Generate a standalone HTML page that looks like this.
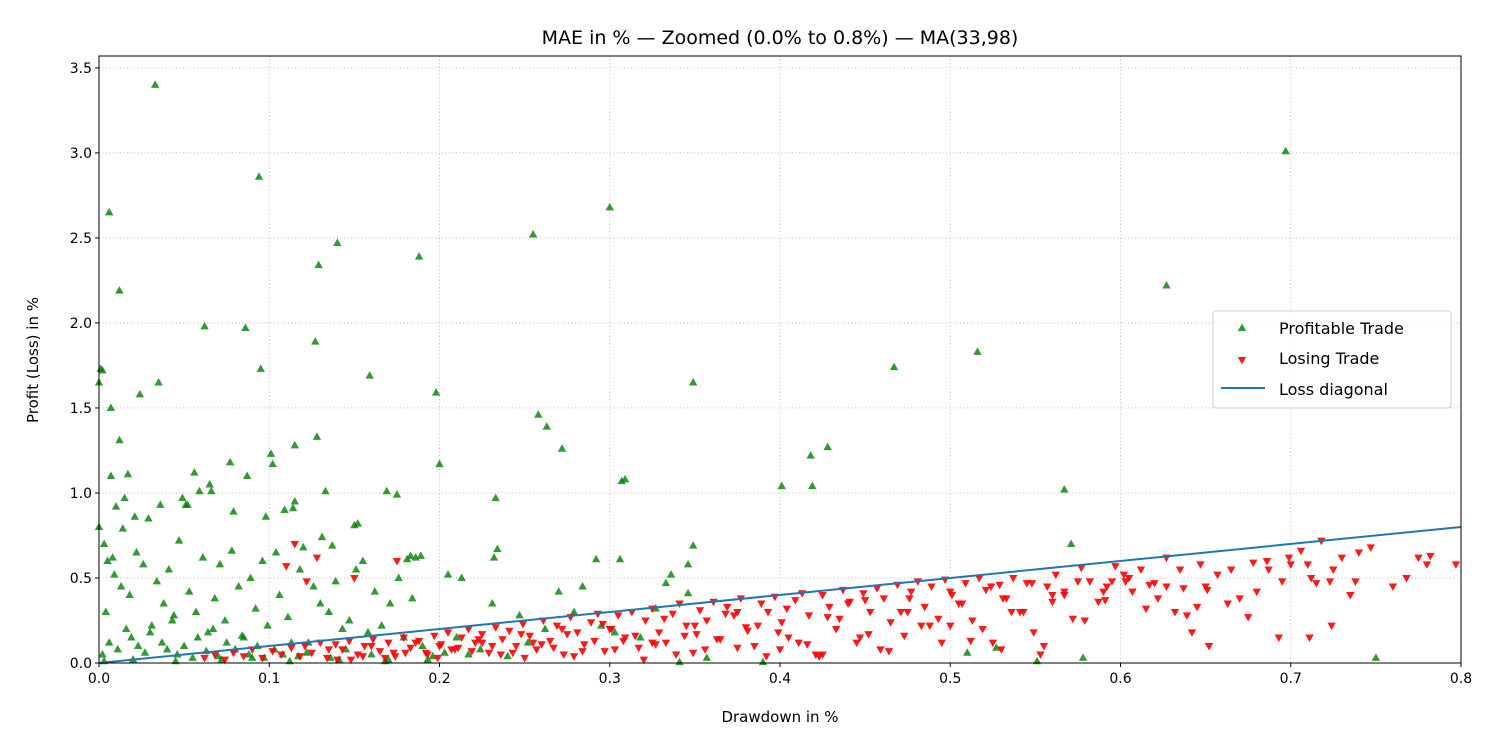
<!DOCTYPE html>
<html><head><meta charset="utf-8"><style>
body{margin:0;background:#fff;}
svg{display:block;font-family:"DejaVu Sans","Liberation Sans",sans-serif;}
</style></head><body>
<svg id="chart" width="1500" height="750"></svg>
<script>
const xTicks=[0,0.1,0.2,0.3,0.4,0.5,0.6,0.7,0.8];
const xTickLabels=["0.0","0.1","0.2","0.3","0.4","0.5","0.6","0.7","0.8"];
const yTicks=[0,0.5,1,1.5,2,2.5,3,3.5];
const yTickLabels=["0.0","0.5","1.0","1.5","2.0","2.5","3.0","3.5"];
const xDomain=[0,0.8];
const yDomain=[0,3.57];
const diagX=[0,0.8];
const diagY=[0,0.8];
const profitX=[0.033,0.094,0.006,0.012,0.129,0.140,0.188,0.255,0.300,0.697,0.627,0.062,0.086,0.127,0.001,0.002,0.0,0.035,0.024,0.095,0.159,0.198,0.349,0.467,0.516,0.007,0.258,0.263,0.272,0.428,0.418,0.012,0.115,0.128,0.101,0.102,0.200,0.056,0.017,0.007,0.077,0.087,0.065,0.059,0.066,0.133,0.169,0.175,0.233,0.307,0.309,0.401,0.419,0.567,0.115,0.114,0.109,0.098,0.036,0.049,0.052,0.015,0.010,0.014,0.021,0.029,0.051,0.079,0.104,0.120,0.131,0.137,0.150,0.152,0.183,0.181,0.186,0.189,0.205,0.213,0.234,0.232,0.292,0.306,0.346,0.349,0.336,0.333,0.571,0.0,0.003,0.005,0.008,
0.004,0.009,0.013,0.018,0.022,0.026,0.031,0.034,0.038,0.041,0.044,0.047,0.053,0.057,0.061,0.064,0.068,0.071,0.074,0.078,0.082,0.085,0.089,0.092,0.096,0.099,0.106,0.111,0.118,0.123,0.126,0.130,0.135,0.139,0.143,0.147,0.151,0.155,0.158,0.162,0.166,0.171,0.176,0.179,0.184,0.002,0.006,0.011,0.016,0.019,0.023,0.027,0.030,0.037,0.040,0.043,0.046,0.050,0.055,0.058,0.063,0.067,0.070,0.075,0.080,0.084,0.088,0.093,0.097,0.103,0.108,0.113,0.117,0.122,0.136,0.145,0.160,0.170,0.190,0.196,0.203,0.210,0.217,0.224,0.231,0.240,0.247,0.252,0.262,0.270,0.279,0.284,0.295,0.303,0.318,0.327,0.341,0.357,0.390,0.346,0.510,0.527,0.551,0.578,0.750,0.003,0.020,0.045,0.072,0.090,0.112,0.141,0.168,0.193,0.221,0.250,0.281];
const profitY=[3.40,2.86,2.65,2.19,2.34,2.47,2.39,2.52,2.68,3.01,2.22,1.98,1.97,1.89,1.73,1.72,1.65,1.65,1.58,1.73,1.69,1.59,1.65,1.74,1.83,1.50,1.46,1.39,1.26,1.27,1.22,1.31,1.28,1.33,1.23,1.17,1.17,1.12,1.11,1.10,1.18,1.10,1.05,1.01,1.01,1.01,1.01,0.99,0.97,1.07,1.08,1.04,1.04,1.02,0.95,0.91,0.90,0.86,0.93,0.97,0.93,0.97,0.92,0.79,0.86,0.85,0.93,0.89,0.65,0.68,0.74,0.69,0.81,0.82,0.63,0.61,0.62,0.63,0.52,0.50,0.67,0.62,0.61,0.61,0.58,0.69,0.52,0.47,0.70,0.80,0.70,0.60,0.62,
0.30,0.52,0.45,0.40,0.65,0.58,0.22,0.48,0.35,0.55,0.28,0.72,0.42,0.30,0.62,0.18,0.38,0.58,0.25,0.66,0.45,0.15,0.50,0.32,0.60,0.22,0.40,0.27,0.55,0.12,0.45,0.35,0.30,0.48,0.20,0.25,0.55,0.60,0.18,0.42,0.22,0.35,0.50,0.15,0.38,0.05,0.12,0.08,0.20,0.15,0.10,0.06,0.18,0.12,0.08,0.25,0.05,0.10,0.03,0.15,0.07,0.20,0.04,0.12,0.08,0.16,0.05,0.10,0.03,0.08,0.05,0.12,0.04,0.06,0.03,0.08,0.05,0.02,0.10,0.04,0.06,0.15,0.05,0.08,0.35,0.04,0.28,0.12,0.20,0.42,0.30,0.45,0.22,0.18,0.15,0.32,0.005,0.03,0.005,0.41,0.06,0.09,0.01,0.03,0.03,0.01,0.02,0.01,0.02,0.03,0.01,0.02,0.01,0.02];
const lossX=[0.062,0.068,0.074,0.079,0.085,0.090,0.096,0.102,0.107,0.113,0.118,0.121,0.125,0.130,0.134,0.139,0.143,0.147,0.152,0.156,0.161,0.165,0.170,0.174,0.179,0.183,0.188,0.192,0.197,0.201,0.205,0.209,0.213,0.217,0.221,0.225,0.229,0.233,0.237,0.241,0.245,0.249,0.253,0.257,0.261,0.265,0.269,0.273,0.277,0.281,0.285,0.289,0.293,0.297,0.301,0.305,0.309,0.313,0.317,0.321,0.325,0.329,0.333,0.337,0.341,0.345,0.349,0.353,0.357,0.361,0.365,0.369,0.373,0.377,0.381,0.385,0.389,0.393,0.397,0.401,0.405,0.409,0.413,0.417,0.421,0.425,0.429,0.433,0.437,0.441,0.445,0.449,0.453,0.457,0.461,0.465,0.469,0.473,0.477,0.481,0.485,0.489,0.493,0.497,0.501,0.505,0.509,0.513,0.517,0.521,0.525,0.529,0.533,0.537,0.541,0.545,0.549,0.553,0.557,0.562,0.567,0.572,0.577,0.582,0.587,0.592,0.597,0.602,0.607,0.612,0.617,0.622,0.627,0.632,0.637,0.642,0.647,0.652,0.657,0.670,0.678,0.686,0.693,0.700,0.706,0.712,0.718,0.724,0.730,0.738,0.747,0.760,0.768,0.775,0.782,0.797,
0.115,0.128,0.140,0.155,0.168,0.180,0.193,0.207,0.219,0.231,0.243,0.255,0.267,0.279,0.291,0.303,0.315,0.327,0.339,0.351,0.363,0.375,0.387,0.399,0.411,0.423,0.435,0.447,0.459,0.471,0.483,0.495,0.507,0.519,0.531,0.543,0.555,0.567,0.579,0.591,0.603,0.615,0.627,0.639,0.651,0.663,0.675,0.687,0.699,0.711,0.723,0.735,
0.110,0.122,0.135,0.148,0.160,0.173,0.186,0.199,0.211,0.223,0.236,0.248,0.260,0.272,0.284,0.296,0.308,0.320,0.332,0.344,0.356,0.368,0.380,0.392,0.404,0.416,0.428,0.440,0.452,0.464,0.476,0.488,0.500,0.512,0.524,0.536,0.548,0.560,0.575,0.590,0.605,0.620,0.635,0.650,0.665,0.680,0.695,0.710,0.725,0.740,0.780,
0.150,0.175,0.200,0.225,0.250,0.275,0.300,0.325,0.350,0.375,0.400,0.425,0.450,0.475,0.500,0.530,0.560,0.595,0.645,0.715];
const lossY=[0.03,0.05,0.02,0.06,0.04,0.08,0.03,0.07,0.05,0.09,0.04,0.10,0.06,0.12,0.03,0.11,0.08,0.13,0.05,0.10,0.14,0.07,0.12,0.04,0.15,0.09,0.13,0.06,0.16,0.11,0.18,0.08,0.15,0.20,0.12,0.17,0.06,0.21,0.14,0.19,0.10,0.23,0.16,0.08,0.25,0.13,0.22,0.05,0.27,0.18,0.11,0.24,0.29,0.07,0.20,0.28,0.15,0.30,0.09,0.25,0.32,0.18,0.12,0.29,0.35,0.22,0.06,0.31,0.25,0.36,0.14,0.33,0.28,0.38,0.19,0.10,0.35,0.30,0.39,0.24,0.15,0.37,0.41,0.28,0.05,0.40,0.33,0.20,0.43,0.36,0.12,0.41,0.30,0.44,0.38,0.24,0.46,0.16,0.42,0.48,0.33,0.45,0.26,0.49,0.40,0.35,0.47,0.25,0.50,0.43,0.12,0.46,0.38,0.50,0.30,0.47,0.18,0.05,0.45,0.52,0.40,0.26,0.56,0.48,0.36,0.45,0.57,0.52,0.42,0.55,0.46,0.38,0.62,0.30,0.44,0.18,0.58,0.10,0.52,0.38,0.59,0.60,0.15,0.58,0.66,0.50,0.72,0.22,0.62,0.48,0.68,0.45,0.50,0.62,0.63,0.58,0.70,0.62,
0.02,0.04,0.03,0.06,0.05,0.08,0.07,0.10,0.06,0.12,0.09,0.04,0.13,0.08,0.16,0.11,0.05,0.17,0.14,0.09,0.22,0.18,0.12,0.04,0.26,0.15,0.08,0.30,0.22,0.12,0.35,0.20,0.38,0.30,0.10,0.42,0.25,0.37,0.48,0.32,0.45,0.28,0.43,0.35,0.27,0.55,0.62,0.15,0.48,0.40,0.57,0.48,
0.08,0.02,0.10,0.06,0.12,0.03,0.09,0.14,0.05,0.17,0.11,0.20,0.07,0.23,0.13,0.02,0.26,0.16,0.08,0.29,0.21,0.04,0.32,0.11,0.27,0.35,0.17,0.07,0.38,0.22,0.42,0.13,0.45,0.30,0.47,0.36,0.48,0.42,0.50,0.47,0.55,0.45,0.55,0.42,0.48,0.58,0.55,0.65,0.58,0.50,0.60,
0.10,0.12,0.03,0.17,0.20,0.12,0.22,0.30,0.08,0.05,0.37,0.30,0.22,0.08,0.40,0.48,0.33,0.47,0.20,0.62];

const NS="http://www.w3.org/2000/svg";
const svg=document.getElementById('chart');
const L=99,R=1461,T=56,B=663;
const sx=v=>L+(v-xDomain[0])/(xDomain[1]-xDomain[0])*(R-L);
const sy=v=>B-(v-yDomain[0])/(yDomain[1]-yDomain[0])*(B-T);
function mk(tag,attrs,parent){const e=document.createElementNS(NS,tag);for(const k in attrs)e.setAttribute(k,attrs[k]);(parent||svg).appendChild(e);return e;}

const grid=mk('g',{});


xTicks.forEach(t=>mk('line',{x1:sx(t),x2:sx(t),y1:T,y2:B,stroke:'#b0b0b0','stroke-width':0.8,'stroke-dasharray':'1,2.5'},grid));
yTicks.forEach(t=>mk('line',{x1:L,x2:R,y1:sy(t),y2:sy(t),stroke:'#b0b0b0','stroke-width':0.8,'stroke-dasharray':'1,2.5'},grid));

const pg=mk('g',{});


profitX.forEach((x,i)=>{const cx=sx(x),cy=sy(profitY[i]);
 const p=mk('polygon',{points:`${cx},${cy-4.5} ${cx-4.2},${cy+3} ${cx+4.2},${cy+3}`,fill:'green','fill-opacity':0.8},pg);
 
 });
const lg=mk('g',{});


lossX.forEach((x,i)=>{const cx=sx(x),cy=sy(lossY[i]);
 const p=mk('polygon',{points:`${cx},${cy+4.5} ${cx-4.2},${cy-3} ${cx+4.2},${cy-3}`,fill:'red','fill-opacity':0.9},lg);
 
 });

const dl=mk('line',{x1:sx(diagX[0]),y1:sy(diagY[0]),x2:sx(diagX[1]),y2:sy(diagY[1]),stroke:'#1f77b4','stroke-width':2});



const fr=mk('rect',{x:L,y:T,width:R-L,height:B-T,fill:'none',stroke:'#000','stroke-width':1});



const xa=mk('g',{});


xTicks.forEach((t,i)=>{mk('line',{x1:sx(t),x2:sx(t),y1:B,y2:B+4,stroke:'#000'},xa);
 const tx=mk('text',{x:sx(t),y:B+20,'text-anchor':'middle','font-size':14},xa);tx.textContent=xTickLabels[i];});
const ya=mk('g',{});


yTicks.forEach((t,i)=>{mk('line',{x1:L-4,x2:L,y1:sy(t),y2:sy(t),stroke:'#000'},ya);
 const tx=mk('text',{x:L-7,y:sy(t)+5,'text-anchor':'end','font-size':14},ya);tx.textContent=yTickLabels[i];});
</script>
<svg style="position:absolute;left:0;top:0" width="1500" height="750">
<text x="780" y="44" text-anchor="middle" font-size="19" font-family="DejaVu Sans, Liberation Sans, sans-serif">MAE in % — Zoomed (0.0% to 0.8%) — MA(33,98)</text>
<text x="780" y="722" text-anchor="middle" font-size="15" font-family="DejaVu Sans, Liberation Sans, sans-serif">Drawdown in %</text>
<text transform="translate(38,360) rotate(-90)" text-anchor="middle" font-size="15" font-family="DejaVu Sans, Liberation Sans, sans-serif">Profit (Loss) in %</text>
<g font-family="DejaVu Sans, Liberation Sans, sans-serif" font-size="16">
<rect x="1213" y="311" width="238" height="97" rx="3" fill="#fff" fill-opacity="0.8" stroke="#ccc"/>
<g><polygon points="1242,323.5 1237.8,331 1246.2,331" fill="green" fill-opacity="0.8"/><text x="1279" y="334">Profitable Trade</text></g>
<g><polygon points="1242,364.5 1237.8,357 1246.2,357" fill="red" fill-opacity="0.9"/><text x="1279" y="364">Losing Trade</text></g>
<g><line x1="1221" y1="388" x2="1265" y2="388" stroke="#1f77b4" stroke-width="2"/><text x="1279" y="395">Loss diagonal</text></g>
</g>
</svg>
</body></html>
